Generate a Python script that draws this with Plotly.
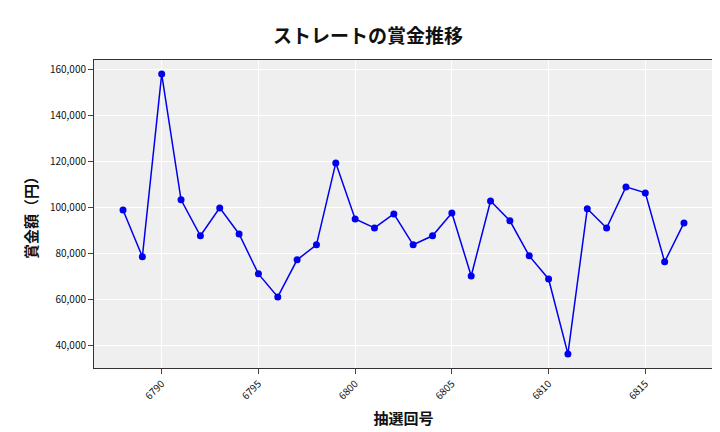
import plotly.graph_objects as go

draws = list(range(6788, 6818))
prizes = [98900, 78600, 157800, 103300, 87700, 99800, 88500, 71200, 61200, 77300,
          83800, 119300, 95000, 91100, 97200, 83800, 87700, 97600, 70300, 102800,
          94200, 79000, 69000, 36500, 99400, 91100, 108900, 106300, 76400, 93300]

font = "Noto Sans CJK JP"

fig = go.Figure()
fig.add_trace(go.Scatter(
    x=draws, y=prizes, mode="lines+markers",
    line=dict(color="#0000ee", width=1.5),
    marker=dict(color="#0000ee", size=7),
))

fig.update_layout(
    width=720, height=432,
    title=dict(text="<b>ストレートの賞金推移</b>", x=0.5, y=0.95,
               font=dict(family=font, size=19, color="#111")),
    font=dict(family=font, color="#111"),
    plot_bgcolor="#efefef", paper_bgcolor="white",
    margin=dict(l=86, r=15, t=52, b=72),
    showlegend=False,
)
fig.update_xaxes(
    title=dict(text="<b>抽選回号</b>", font=dict(size=15), standoff=12),
    tickvals=[6790, 6795, 6800, 6805, 6810, 6815], tickangle=-45,
    tickfont=dict(size=10), gridcolor="white", zeroline=False,
    range=[6786.5, 6818.5], showline=True, linecolor="#333", mirror=True,
    ticks="outside", automargin=False,
)
fig.update_yaxes(
    title=dict(text="<b>賞金額（円）</b>", font=dict(size=15), standoff=8),
    tickvals=[40000, 60000, 80000, 100000, 120000, 140000, 160000],
    tickformat=",", tickfont=dict(size=10), gridcolor="white", zeroline=False,
    range=[30400, 163900], showline=True, linecolor="#333", mirror=True,
    ticks="outside", automargin=False,
)

fig.write_html("out.html")
